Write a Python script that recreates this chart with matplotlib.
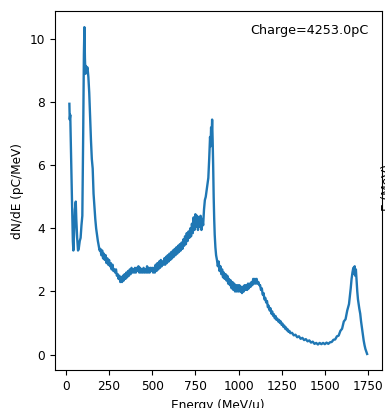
import matplotlib
matplotlib.use("Agg")

import matplotlib.pyplot as plt


# energy bins (MeV/u) and spectrum values (pC/MeV)
energy = [
    20, 22, 25, 30, 35, 40, 43, 47, 52, 57, 60, 65, 70, 74, 80, 85, 90, 95,
    100, 104, 107, 110, 113, 116, 120, 125, 130, 135, 140, 145, 150, 155,
    160, 165, 170, 175, 180, 185, 190, 195, 200, 205, 210, 215, 220, 225,
    230, 235, 240, 245, 250, 255, 260, 265, 270, 275, 280, 285, 290, 295,
    300, 305, 310, 315, 320, 325, 330, 335, 340, 345, 350, 355, 360, 365,
    370, 375, 380, 385, 390, 395, 400, 405, 410, 415, 420, 425, 430, 435,
    440, 445, 450, 455, 460, 465, 470, 475, 480, 485, 490, 495, 500, 505,
    510, 515, 520, 525, 530, 535, 540, 545, 550, 555, 560, 565, 570, 575,
    580, 585, 590, 595, 600, 605, 610, 615, 620, 625, 630, 635, 640, 645,
    650, 655, 660, 665, 670, 675, 680, 685, 690, 695, 700, 705, 710, 715,
    720, 725, 730, 735, 740, 745, 750, 755, 760, 765, 770, 775, 780, 785,
    790, 795, 800, 805, 810, 815, 820, 825, 830, 835, 838, 841, 844, 847,
    850, 853, 856, 859, 862, 866, 870, 875, 880, 885, 890, 895, 900, 905,
    910, 915, 920, 925, 930, 935, 940, 945, 950, 955, 960, 965, 970, 975,
    980, 985, 990, 995, 1000, 1005, 1010, 1015, 1020, 1025, 1030, 1035,
    1040, 1045, 1050, 1055, 1060, 1065, 1070, 1075, 1080, 1085, 1090, 1095,
    1100, 1105, 1110, 1115, 1120, 1125, 1130, 1135, 1140, 1145, 1150, 1155,
    1160, 1165, 1170, 1175, 1180, 1185, 1190, 1195, 1200, 1205, 1210, 1215,
    1220, 1225, 1230, 1235, 1240, 1245, 1250, 1255, 1260, 1265, 1270, 1275,
    1280, 1285, 1290, 1295, 1300, 1310, 1320, 1330, 1340, 1350, 1360, 1370,
    1380, 1390, 1400, 1410, 1420, 1430, 1440, 1450, 1460, 1470, 1480, 1490,
    1500, 1510, 1520, 1530, 1540, 1550, 1560, 1570, 1580, 1590, 1600, 1610,
    1620, 1630, 1640, 1650, 1655, 1660, 1665, 1670, 1673, 1676, 1680, 1684,
    1688, 1692, 1696, 1700, 1705, 1710, 1715, 1720, 1725, 1730, 1735, 1740,
    1745,
]

dnde = [
    7.95, 7.45, 7.6, 6.2, 4.9, 3.6, 3.3, 3.8, 4.6, 4.85, 4.3, 3.7, 3.3, 3.35,
    3.6, 3.7, 4.1, 4.4,
    7.0, 9.5, 10.38, 9.4, 8.9, 9.15, 9.0, 9.1, 8.8, 8.3, 7.5, 6.8, 6.2, 5.9,
    5.1, 4.7, 4.3, 4.0, 3.8, 3.6, 3.45, 3.3, 3.35, 3.15, 3.3, 3.05, 3.2, 3.0,
    3.15, 2.9, 3.05, 2.85, 3.0, 2.8, 2.9, 2.7, 2.85, 2.65, 2.7, 2.6, 2.7, 2.5,
    2.55, 2.4, 2.5, 2.3, 2.45, 2.3, 2.5, 2.35, 2.55, 2.4, 2.6, 2.45, 2.65, 2.5,
    2.7, 2.55, 2.75, 2.6, 2.7, 2.6, 2.75, 2.6, 2.75, 2.65, 2.8, 2.6, 2.75, 2.6,
    2.7, 2.6, 2.75, 2.6, 2.7, 2.6, 2.8, 2.6, 2.75, 2.6, 2.75, 2.65, 2.75, 2.6,
    2.75, 2.6, 2.85, 2.65, 2.9, 2.7, 2.95, 2.75, 3.0, 2.8, 2.95, 2.85, 3.05, 2.85,
    3.1, 2.9, 3.15, 2.95, 3.2, 3.0, 3.25, 3.05, 3.3, 3.1, 3.35, 3.15, 3.4, 3.2,
    3.45, 3.25, 3.5, 3.3, 3.55, 3.35, 3.65, 3.45, 3.75, 3.5, 3.85, 3.6, 3.9, 3.7,
    4.0, 3.75, 4.15, 3.85, 4.35, 3.95, 4.45, 4.05, 4.4, 3.95, 4.35, 4.05, 4.4, 3.95,
    4.3, 4.1, 4.6, 4.9, 5.0, 5.2, 5.4, 5.6, 6.2, 6.9, 6.6, 7.2, 6.9, 7.45,
    6.8, 6.0, 5.0, 4.3, 3.8, 3.4, 3.15, 3.0, 2.8, 2.95, 2.65, 2.8, 2.55, 2.7,
    2.45, 2.6, 2.4, 2.55, 2.35, 2.5, 2.25, 2.4, 2.2, 2.35, 2.1, 2.3, 2.05, 2.25,
    2.0, 2.2, 2.0, 2.2, 2.0, 2.2, 2.0, 2.15, 1.95, 2.15, 2.0, 2.2,
    2.05, 2.2, 2.05, 2.25, 2.1, 2.25, 2.15, 2.3, 2.2, 2.4, 2.25, 2.4,
    2.25, 2.4, 2.25, 2.3, 2.2, 2.2, 2.05, 2.1, 1.9, 1.95, 1.75, 1.8,
    1.65, 1.7, 1.5, 1.55, 1.4, 1.47, 1.3, 1.37, 1.23, 1.28, 1.15, 1.22,
    1.1, 1.14, 1.05, 1.1, 1.0, 1.05, 0.94, 0.98, 0.88, 0.92, 0.82, 0.86,
    0.77, 0.8, 0.72, 0.75, 0.68, 0.69, 0.61, 0.63, 0.55, 0.58, 0.5, 0.53,
    0.46, 0.49, 0.42, 0.45, 0.38, 0.41, 0.34, 0.37, 0.32, 0.37, 0.33, 0.37,
    0.33, 0.38, 0.34, 0.39, 0.4, 0.47, 0.48, 0.58, 0.6, 0.75, 0.82, 1.05,
    1.12, 1.4, 1.6, 2.1, 2.4, 2.6, 2.75, 2.55, 2.8, 2.5, 2.7, 2.35,
    2.0, 1.75, 1.6, 1.45, 1.3, 1.05, 0.85, 0.65, 0.45, 0.3, 0.18, 0.1,
    0.02,
]

charge_label = "Charge=4253.0pC"


fig = plt.figure(
    figsize=(3.85, 4.08),
    dpi=100
)

ax = fig.add_axes(
    [54.5 / 385, (408 - 370.3) / 408, 327.5 / 385, 359.5 / 408]
)

ax.plot(
    energy,
    dnde,
    color="#1f77b4",
    linewidth=1.7
)

ax.text(
    0.96,
    0.946,
    charge_label,
    transform=ax.transAxes,
    ha="right",
    va="center",
    fontsize=9.2
)

ax.set_xticks([0, 250, 500, 750, 1000, 1250, 1500, 1750])
ax.set_yticks([0, 2, 4, 6, 8, 10])

ax.tick_params(labelsize=8.7)

ax.set_xlabel(
    "Energy (MeV/u)",
    fontsize=8.7
)

ax.set_ylabel(
    "dN/dE (pC/MeV)",
    fontsize=8.7
)

# neighbouring panel's label, cut off at the right edge
fig.text(
    381.5 / 385,
    0.54,
    "E (MeV)",
    rotation=90,
    ha="left",
    va="center",
    fontsize=8.7
)

plt.savefig(
    "out.png",
    dpi=100
)

plt.close()
